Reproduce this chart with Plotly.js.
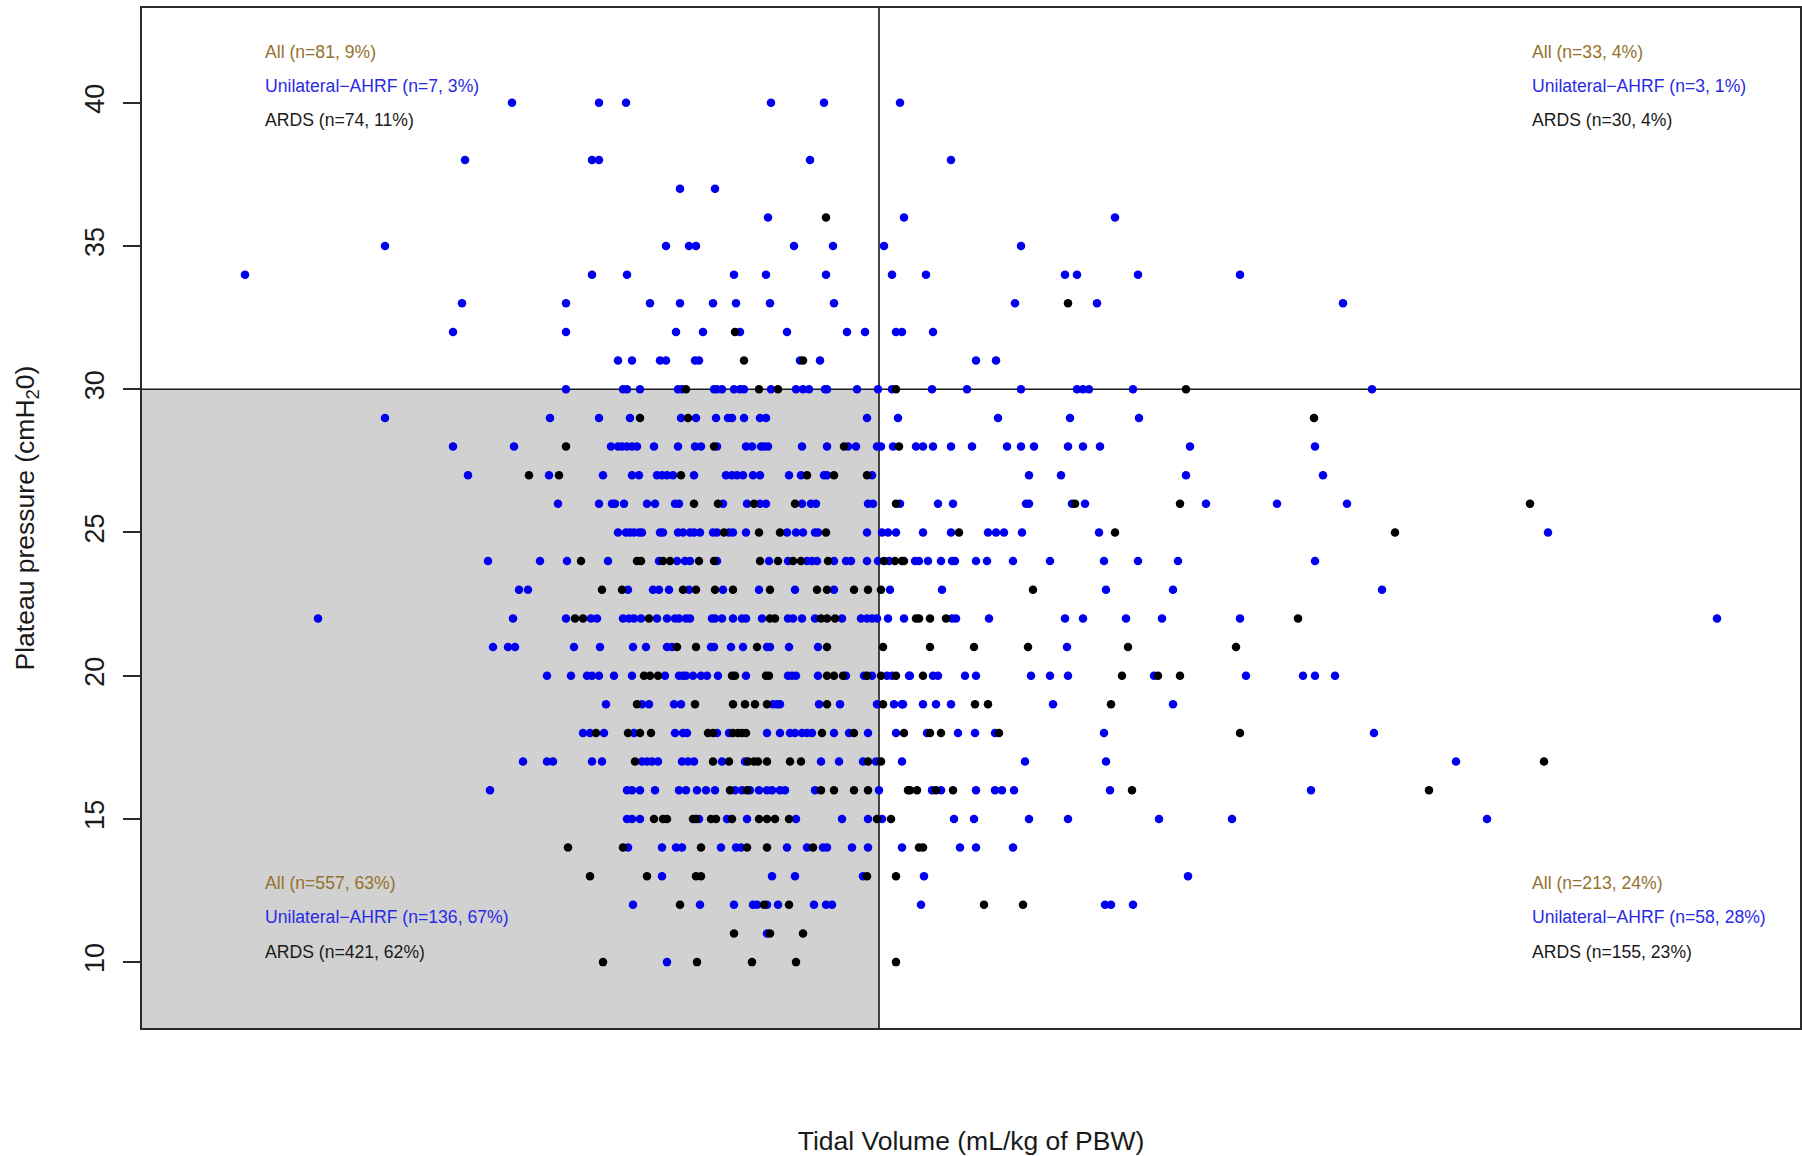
<!DOCTYPE html>
<html>
<head>
<meta charset="utf-8">
<script src="https://cdn.plot.ly/plotly-3.0.1.min.js"></script>
<style>html,body{margin:0;padding:0;background:#fff}#chart{width:1802px;height:1156px}</style>
</head>
<body>
<div id="chart"></div>
<script>
const plateauLevels = [40,38,37,36,35,34,33,32,31,30,29,28,27,26,25,24,23,22,21,20,19,18,17,16,15,14,13,12,11,10];

const unilateralByLevel = [
[4.33,5.20,5.47,6.92,7.45,8.21],
[3.86,5.13,5.20,7.31,8.72],
[6.01,6.36],
[6.89,8.25,10.36],
[3.06,5.87,6.10,6.17,7.15,7.54,8.05,9.42],
[1.66,5.13,5.48,6.55,6.87,7.47,8.13,8.47,9.86,9.98,10.59,11.61],
[3.83,4.87,5.71,6.01,6.34,6.57,6.91,7.55,9.36,10.18,12.64],
[3.74,4.87,5.97,6.24,6.61,7.08,7.68,7.86,8.17,8.23,8.54],
[5.39,5.53,5.81,5.87,6.16,6.20,7.21,7.41,8.97,9.17],
[4.87,5.44,5.48,5.61,5.99,6.03,6.35,6.38,6.43,6.55,6.61,6.65,6.92,7.17,7.24,7.30,7.46,7.48,7.78,7.99,8.13,8.53,8.88,9.42,9.98,10.04,10.10,10.54,12.93],
[3.06,4.71,5.20,5.51,6.02,6.17,6.37,6.49,6.53,6.65,6.81,6.87,7.88,8.19,9.19,9.91,10.60],
[3.74,4.35,5.32,5.39,5.43,5.48,5.53,5.58,5.75,5.99,6.16,6.22,6.38,6.67,6.73,6.82,6.85,6.89,7.23,7.48,7.69,7.77,7.98,8.02,8.14,8.37,8.44,8.54,8.72,8.93,9.28,9.42,9.55,9.89,10.04,10.21,11.11,12.36],
[3.89,4.70,5.24,5.53,5.60,5.78,5.83,5.88,5.94,6.15,6.47,6.53,6.58,6.64,6.74,6.81,7.10,7.22,7.45,7.48,7.93,9.50,9.82,11.07,12.44],
[4.79,5.20,5.33,5.36,5.45,5.68,5.76,5.96,6.00,6.44,6.68,6.81,6.87,7.23,7.32,7.37,7.89,7.94,8.21,8.59,8.74,9.47,9.50,9.93,10.06,11.27,11.98,12.68],
[5.39,5.47,5.51,5.55,5.60,5.63,5.81,5.84,5.99,6.04,6.11,6.15,6.21,6.34,6.38,6.50,6.54,6.67,7.08,7.17,7.24,7.36,7.39,7.88,8.03,8.09,8.17,8.44,8.72,9.09,9.17,9.25,9.43,10.20,14.69],
[4.09,4.61,4.88,5.29,5.80,5.98,6.06,6.11,6.38,6.90,7.09,7.28,7.33,7.38,7.55,7.67,7.72,7.88,7.99,8.10,8.36,8.40,8.49,8.62,8.73,8.76,8.97,9.08,9.34,9.71,10.25,10.59,10.99,12.36],
[4.40,4.49,5.49,5.74,5.80,5.90,6.10,6.44,6.80,7.16,7.55,8.11,8.63,10.27,10.94,13.03],
[2.39,4.34,4.87,5.12,5.18,5.44,5.50,5.55,5.62,5.78,5.88,5.96,6.00,6.07,6.11,6.33,6.36,6.43,6.54,6.63,6.67,6.83,7.09,7.14,7.23,7.36,7.63,7.82,7.88,7.93,7.98,8.09,8.25,8.73,8.77,9.10,9.86,10.04,10.47,10.83,11.61,16.38],
[4.14,4.29,4.36,4.95,5.21,5.54,5.67,5.88,5.93,6.32,6.35,6.52,6.64,6.88,6.91,7.10,7.39,9.88],
[4.68,4.92,5.08,5.13,5.20,5.35,5.53,5.86,6.00,6.04,6.07,6.14,6.22,6.28,6.39,6.67,7.09,7.13,7.17,7.39,7.67,7.85,7.93,8.08,8.13,8.30,8.31,8.54,8.59,8.86,8.97,9.52,9.71,9.89,10.75,11.67,12.24,12.36,12.56],
[5.27,5.63,5.70,5.95,6.02,6.94,6.98,7.01,7.40,7.61,7.98,8.15,8.23,8.24,8.44,8.57,8.72,9.74,10.94],
[5.04,5.11,5.25,5.55,5.96,6.04,6.08,6.38,6.50,6.88,7.01,7.11,7.16,7.23,7.28,7.33,7.55,7.70,7.89,8.17,8.48,8.79,8.96,9.16,10.25,12.95],
[4.44,4.68,4.74,5.13,5.23,5.63,5.68,5.73,5.79,6.03,6.09,6.15,6.43,6.66,7.42,7.60,7.84,7.97,8.23,9.46,10.27,13.77],
[4.11,5.48,5.53,5.61,5.76,6.00,6.07,6.18,6.27,6.36,6.56,6.63,6.71,6.80,6.88,6.93,7.01,7.06,7.36,8.00,8.53,8.62,8.97,9.16,9.23,9.35,10.31,12.32],
[5.48,5.53,5.61,6.20,6.48,6.68,7.17,7.63,7.89,8.03,8.75,8.95,9.50,9.89,10.80,11.53,14.08],
[5.49,5.83,5.97,6.03,6.42,6.57,6.62,7.08,7.28,7.44,7.48,7.73,7.89,8.23,8.81,8.97,9.34],
[5.83,6.93,7.16,7.84,8.45,11.09],
[5.54,6.21,6.55,6.74,6.78,6.88,6.99,7.35,7.47,7.53,8.42,10.26,10.32,10.54],
[6.88],
[5.88]
];

const ardsByLevel = [
[],
[],
[],
[7.47],
[],
[],
[9.89],
[6.56],
[6.65,7.24],
[6.07,6.80,6.99,8.17,11.07],
[5.61,6.09,12.35],
[4.87,6.35,7.65,8.20],
[4.50,4.80,6.02,7.28,7.55,7.88],
[6.15,6.39,6.75,7.16,8.17,9.96,11.01,14.51],
[6.45,6.80,7.01,7.47,8.80,10.36,13.16],
[5.02,5.58,5.62,5.84,5.91,6.20,6.35,6.81,6.99,7.14,7.22,7.49,8.05,8.16,8.23,8.25],
[5.23,5.43,6.04,6.17,6.36,6.54,6.91,7.38,7.48,7.75,7.89,8.02,9.54],
[4.96,5.04,5.70,6.91,6.96,7.42,7.48,7.56,8.37,8.40,8.51,8.67,12.19],
[5.98,6.17,6.78,7.48,8.04,8.51,8.95,9.49,10.49,11.57],
[5.65,5.71,5.79,6.53,6.56,6.87,6.90,7.48,7.55,7.64,7.88,8.02,8.17,8.44,10.43,10.79,11.01],
[5.58,6.16,6.54,6.66,6.76,6.88,7.48,8.04,8.96,9.09,10.32],
[5.17,5.49,5.61,5.72,6.29,6.34,6.54,6.59,6.63,6.67,7.43,7.75,8.25,8.51,8.62,9.20,11.61],
[5.56,6.34,6.50,6.69,6.75,6.79,6.88,7.11,7.22,7.89,8.02,14.65],
[6.51,6.68,7.42,7.55,7.75,7.89,8.29,8.31,8.38,8.57,8.74,10.53,13.50],
[5.75,5.84,5.88,6.14,6.17,6.32,6.37,6.53,6.80,6.88,6.96,7.10,7.98,8.12],
[4.89,5.44,6.22,6.68,6.88,7.34,8.40,8.44],
[5.11,5.68,6.17,6.22,7.88,8.17],
[6.01,6.85,7.10,9.05,9.44],
[6.55,6.91,7.24],
[5.24,6.18,6.73,7.17,8.17]
];

const yTicks = [10,15,20,25,30,35,40];
const xCut = 8, yCut = 30;
const xRange = [0.63, 17.21], yRange = [7.70, 43.31];
const textColors = ['#94722c', '#2a2ae6', '#1a1a1a'];
const quadrantTexts = [
  {x:1.84,  y:[41.79,40.59,39.39], t:['All (n=81, 9%)','Unilateral\u2212AHRF (n=7, 3%)','ARDS (n=74, 11%)']},
  {x:14.505,y:[41.79,40.59,39.39], t:['All (n=33, 4%)','Unilateral\u2212AHRF (n=3, 1%)','ARDS (n=30, 4%)']},
  {x:1.84,  y:[12.77,11.57,10.37], t:['All (n=557, 63%)','Unilateral\u2212AHRF (n=136, 67%)','ARDS (n=421, 62%)']},
  {x:14.505,y:[12.77,11.57,10.37], t:['All (n=213, 24%)','Unilateral\u2212AHRF (n=58, 28%)','ARDS (n=155, 23%)']}
];

function flatten(byLevel){
  const xs=[], ys=[];
  byLevel.forEach((row,i)=>row.forEach(v=>{xs.push(v);ys.push(plateauLevels[i]);}));
  return {xs,ys};
}
const blue = flatten(unilateralByLevel), black = flatten(ardsByLevel);
const FONT = '"Liberation Sans", Arial, sans-serif';

const traces = [
  {type:'scatter',mode:'markers',name:'Unilateral-AHRF',x:blue.xs,y:blue.ys,marker:{color:'#0000ee',size:8.5,line:{width:0}}},
  {type:'scatter',mode:'markers',name:'ARDS',x:black.xs,y:black.ys,marker:{color:'#000000',size:8.5,line:{width:0}}}
];

const annotations = [];
quadrantTexts.forEach(q=>q.t.forEach((s,i)=>annotations.push({
  xref:'x',yref:'y',x:q.x,y:q.y[i],text:s,showarrow:false,xanchor:'left',yanchor:'middle',
  font:{family:FONT,size:17.6,color:textColors[i]}
})));

const layout = {
  width:1802,height:1156,
  margin:{l:142,r:2,t:7.5,b:127.8,pad:0},
  paper_bgcolor:'#fff',plot_bgcolor:'#fff',showlegend:false,hovermode:'closest',
  xaxis:{range:xRange,showgrid:false,zeroline:false,showticklabels:false,ticks:'',
    showline:true,mirror:true,linecolor:'#2a2a2a',linewidth:2,
    title:{text:'Tidal Volume (mL/kg of PBW)',font:{family:FONT,size:26.5,color:'#1a1a1a'},standoff:103}},
  yaxis:{range:yRange,showgrid:false,zeroline:false,tickmode:'array',tickvals:yTicks,ticktext:yTicks.map(String),
    ticks:'outside',ticklen:17,tickwidth:1.6,tickcolor:'#2a2a2a',tickangle:-90,ticklabelstandoff:8,
    tickfont:{family:FONT,size:27,color:'#1a1a1a'},
    showline:true,mirror:true,linecolor:'#2a2a2a',linewidth:2,
    title:{text:'Plateau pressure (cmH<sub>2</sub>0)',font:{family:FONT,size:26.5,color:'#1a1a1a'},standoff:38}},
  shapes:[
    {type:'rect',layer:'below',xref:'x',yref:'y',x0:xRange[0],x1:xCut,y0:yRange[0],y1:yCut,fillcolor:'#d1d1d1',line:{width:0}},
    {type:'line',layer:'below',xref:'x',yref:'y',x0:xCut,x1:xCut,y0:yRange[0],y1:yRange[1],line:{color:'#1a1a1a',width:1.6}},
    {type:'line',layer:'below',xref:'x',yref:'y',x0:xRange[0],x1:xRange[1],y0:yCut,y1:yCut,line:{color:'#1a1a1a',width:1.6}}
  ],
  annotations
};
Plotly.newPlot('chart',traces,layout,{displayModeBar:false,responsive:false});
</script>
</body>
</html>
